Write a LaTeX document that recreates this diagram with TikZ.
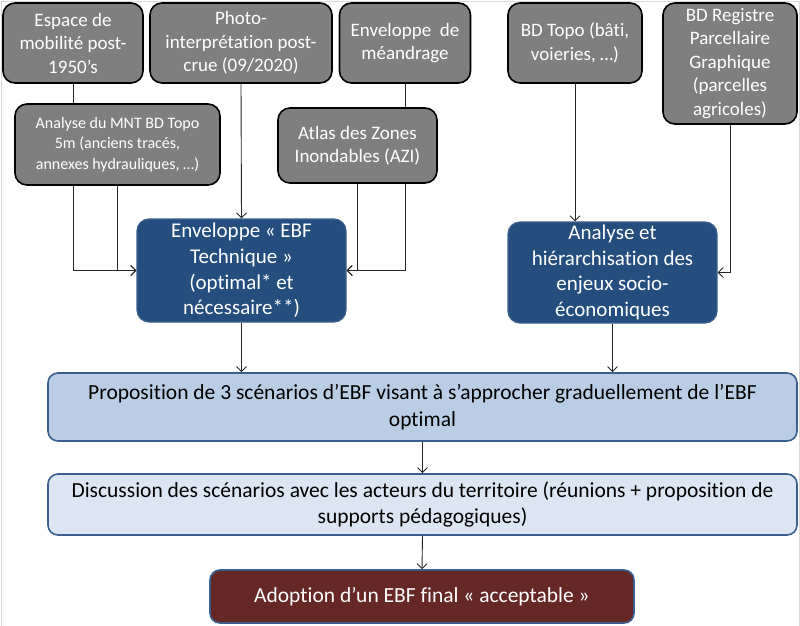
\documentclass[tikz,border=0pt]{standalone}
\usepackage{fontspec}
\setmainfont{Carlito}[Ligatures=NoCommon]
\usetikzlibrary{backgrounds,arrows.meta}

\definecolor{boxgray}{HTML}{7F7F7F}
\definecolor{darkblue}{HTML}{254E7F}
\definecolor{edgeblue}{HTML}{3A5F8E}
\definecolor{paleblue}{HTML}{B9CDE5}
\definecolor{paleblueb}{HTML}{DCE6F2}
\definecolor{darkred}{HTML}{652825}

\begin{document}
\begin{tikzpicture}[x=1pt,y=-1pt,
    source/.style={draw=black,line width=1.6pt,fill=boxgray,text=white,rounded corners=12pt,
        align=center,inner sep=0pt,font=\fontsize{19}{23.5}\selectfont},
    result/.style={draw=edgeblue,line width=1.2pt,fill=darkblue,text=white,rounded corners=12pt,
        align=center,inner sep=0pt,font=\fontsize{21}{25.7}\selectfont},
    stage/.style={draw=edgeblue,line width=1.6pt,rounded corners=10pt,
        align=center,inner sep=0pt,font=\fontsize{21.5}{26.5}\selectfont},
    link/.style={-{Straight Barb[length=5pt,width=10pt]},line width=0.9pt,black!85}]
    \useasboundingbox (0,0) rectangle (800,625);
    \draw[black!15,line width=0.8pt] (1,1) rectangle (799,630);

    % sources
    \node[source,minimum width=140,minimum height=80] (esp) at (73,43) {Espace de\\mobilité post-\\1950’s};
    \node[source,minimum width=182,minimum height=80] (photo) at (241,43) {Photo-\\interprétation post-\\crue (09/2020)};
    \node[source,minimum width=131,minimum height=80] (meand) at (405,43) {Enveloppe~ de\\méandrage};
    \node[source,minimum width=205,minimum height=81,font=\fontsize{16}{20.5}\selectfont] (mnt) at (117.5,144.5)
        {Analyse du MNT BD Topo\\5m (anciens tracés,\\annexes hydrauliques, …)};
    \node[source,minimum width=159,minimum height=75] (azi) at (357.5,145.5) {Atlas des Zones\\Inondables (AZI)};
    \node[source,minimum width=134,minimum height=80] (topo) at (575,43) {BD Topo (bâti,\\voieries, …)};
    \node[source,minimum width=134,minimum height=121] (rpg) at (730,63.5)
        {BD Registre\\Parcellaire\\Graphique\\(parcelles\\agricoles)};

    % syntheses
    \node[result,minimum width=209,minimum height=103] (ebf) at (241.5,270.5)
        {Enveloppe « EBF\\Technique »\\(optimal* et\\nécessaire**)};
    \node[result,minimum width=209,minimum height=101] (enj) at (612.5,272.5)
        {Analyse et\\hiérarchisation des\\enjeux socio-\\économiques};

    % scenarios
    \node[stage,fill=paleblue,minimum width=749,minimum height=68] (prop) at (422.5,407)
        {Proposition de 3 scénarios d’EBF visant à s’approcher graduellement de l’EBF\\optimal};
    \node[stage,fill=paleblueb,minimum width=749,minimum height=61] (disc) at (422.5,504.5)
        {Discussion des scénarios avec les acteurs du territoire (réunions + proposition de\\supports pédagogiques)};
    \node[stage,fill=darkred,text=white,minimum width=424,minimum height=53] (adop) at (422,596.5)
        {Adoption d’un EBF final « acceptable »};

    \begin{scope}[on background layer]
        \draw[link] (esp.south) |- (ebf.west);
        \draw[link] (mnt.south) |- (ebf.west);
        \draw[link] (photo.south) -- (ebf.north);
        \draw[link] (meand.south) |- (ebf.east);
        \draw[link] (azi.south) |- (ebf.east);
        \draw[link] (topo.south) -- (topo.south |- enj.north);
        \draw[link] (rpg.south) |- (enj.east);
        \draw[link] (ebf.south) -- (ebf.south |- prop.north);
        \draw[link] (enj.south) -- (enj.south |- prop.north);
        \draw[link] (prop.south) -- (disc.north);
        \draw[link] (disc.south) -- (adop.north);
    \end{scope}
\end{tikzpicture}
\end{document}
